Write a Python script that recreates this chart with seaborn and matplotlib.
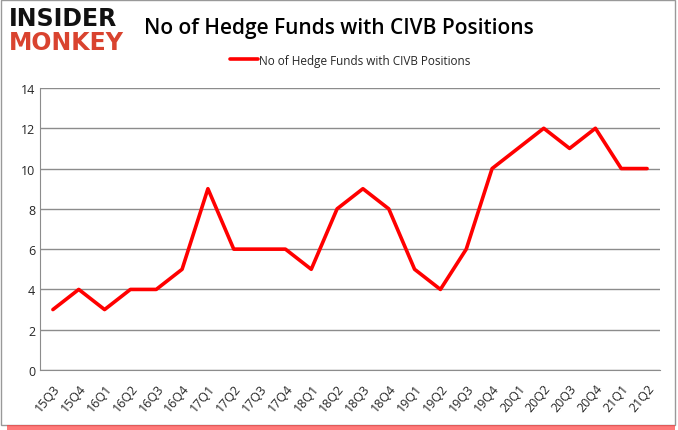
import matplotlib
matplotlib.use("Agg")
import matplotlib.pyplot as plt
import seaborn as sns
import pandas as pd
from matplotlib.ticker import FixedLocator

quarters = ["15Q3", "15Q4", "16Q1", "16Q2", "16Q3", "16Q4", "17Q1", "17Q2",
            "17Q3", "17Q4", "18Q1", "18Q2", "18Q3", "18Q4", "19Q1", "19Q2",
            "19Q3", "19Q4", "20Q1", "20Q2", "20Q3", "20Q4", "21Q1", "21Q2"]
funds = [3, 4, 3, 4, 4, 5, 9, 6, 6, 6, 5, 8, 9, 8, 5, 4, 6, 10, 11, 12, 11, 12, 10, 10]
y_ticks = [0, 2, 4, 6, 8, 10, 12, 14]
series_name = "No of Hedge Funds with CIVB Positions"

df = pd.DataFrame({"quarter": quarters, "funds": funds})
df["pos"] = range(len(df))

sns.set_style("white")
plt.rcParams["font.family"] = ["Open Sans", "DejaVu Sans"]

fig = plt.figure(figsize=(6.78, 4.31), dpi=100)
ax = fig.add_axes([40 / 678, 60 / 431, 620 / 678, 282 / 431])

sns.lineplot(data=df, x="pos", y="funds", color="#ff0000", linewidth=2.6,
             label=series_name, ax=ax)

ax.set_xlim(-0.5, len(quarters) - 0.5)
ax.set_ylim(0, 14)
ax.set_yticks(y_ticks)
ax.set_yticklabels([str(v) for v in y_ticks], fontsize=9)
ax.set_xticks(range(len(quarters)))
ax.set_xticklabels(quarters, rotation=50, fontsize=9, ha="right",
                   rotation_mode="anchor")
ax.tick_params(axis="x", which="major", length=0, pad=8)
ax.xaxis.set_minor_locator(FixedLocator([i - 0.5 for i in range(len(quarters) + 1)]))
ax.tick_params(axis="x", which="minor", length=5, color="#888888", direction="out")
ax.tick_params(axis="y", length=0)
ax.grid(axis="y", color="#8c8c8c", linewidth=1)
ax.set_xlabel("")
ax.set_ylabel("")
for side in ["top", "right"]:
    ax.spines[side].set_visible(False)
ax.spines["left"].set_color("#8c8c8c")
ax.spines["bottom"].set_color("#8c8c8c")

leg = ax.legend(loc="upper center", bbox_to_anchor=(0.5, 1.16), frameon=False,
                fontsize=8.5, handlelength=2.4, handletextpad=0.1)

fig.text(0.5, 0.935, "No of Hedge Funds with CIVB Positions", fontsize=15,
         fontweight="semibold", ha="center", va="center", color="black")
fig.text(0.013, 0.955, "INSIDER", fontsize=17, fontweight="bold", color="#111111",
         ha="left", va="center", family="DejaVu Sans")
fig.text(0.013, 0.9, "MONKEY", fontsize=17, fontweight="bold", color="#d9432f",
         ha="left", va="center", family="DejaVu Sans")

# outer frame with red shadow on bottom
fig.patches.append(plt.Rectangle((0.002, 0.012), 0.994, 0.986, transform=fig.transFigure,
                                 fill=False, edgecolor="#999999", linewidth=1))
fig.patches.append(plt.Rectangle((0.01, 0.0), 0.985, 0.012, transform=fig.transFigure,
                                 facecolor="#ff4040", edgecolor="none", alpha=0.7))

fig.savefig("out.png", dpi=100)
